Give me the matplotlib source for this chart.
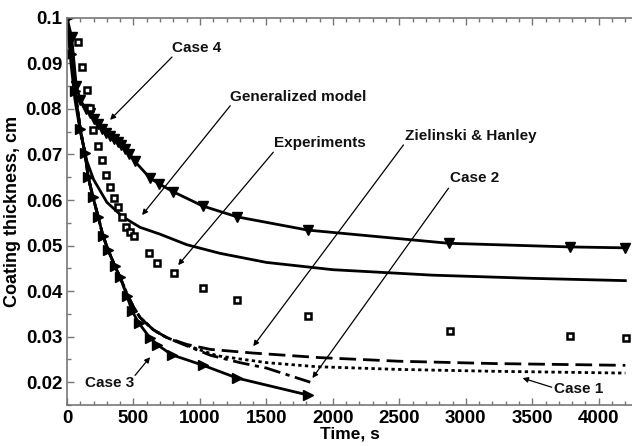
import matplotlib

matplotlib.use("Agg")
import matplotlib.pyplot as plt
from matplotlib.ticker import MultipleLocator

FONT_FAMILY = "Liberation Sans"
AXIS_COLOR = "#777777"

# Case 4 (inverted triangles)
case4_t = [0, 35, 70, 100, 140, 170, 200, 230, 260, 290, 320, 350, 380, 410,
           440, 470, 510, 625, 690, 800, 1020, 1280, 1810, 2870, 3780, 4200]
case4_y = [0.1, 0.0958, 0.085, 0.082, 0.080, 0.0792, 0.0778, 0.0768, 0.0757,
           0.0748, 0.0741, 0.0734, 0.0727, 0.0720, 0.0713, 0.0702, 0.0685,
           0.0648, 0.0636, 0.0618, 0.0587, 0.0563, 0.0534, 0.0505, 0.0497,
           0.0495]

# Generalized model (plain solid line)
gen_t = [0, 30, 60, 100, 150, 200, 300, 420, 550, 700, 900, 1150, 1500, 2000,
         2750, 3500, 4200]
gen_y = [0.1, 0.09, 0.082, 0.075, 0.0685, 0.0645, 0.0595, 0.0563, 0.054,
         0.0525, 0.0502, 0.0483, 0.0463, 0.0447, 0.0435, 0.0428, 0.0423]

# Case 3 (right triangles)
case3_t = [0, 30, 60, 100, 135, 160, 195, 235, 270, 310, 360, 400, 450, 490,
           540, 625, 680, 790, 1025, 1280, 1810]
case3_y = [0.1, 0.092, 0.084, 0.0755, 0.0703, 0.065, 0.0607, 0.0563, 0.0522,
           0.049, 0.0455, 0.043, 0.039, 0.0356, 0.033, 0.0297, 0.0282, 0.026,
           0.0237, 0.0209, 0.0172]

# Experiments (open squares)
exp_t = [83, 113, 151, 173, 196, 234, 264, 294, 324, 354, 384, 414, 444, 474,
         505, 618, 678, 806, 1025, 1280, 1812, 2878, 3785, 4203]
exp_y = [0.0947, 0.0892, 0.0842, 0.0802, 0.0754, 0.0719, 0.0688, 0.0655,
         0.0629, 0.0604, 0.0585, 0.0563, 0.054, 0.053, 0.0521, 0.0484, 0.0462,
         0.044, 0.0407, 0.038, 0.0346, 0.0313, 0.0302, 0.0296]

# Zielinski & Hanley (dashed)
zh_t = [0, 30, 60, 100, 135, 160, 195, 235, 270, 310, 360, 400, 450, 500, 550,
        650, 750, 900, 1080, 1400, 1900, 2500, 3200, 4200]
zh_y = [0.1, 0.092, 0.084, 0.0755, 0.0703, 0.065, 0.0607, 0.0563, 0.0522,
        0.049, 0.0455, 0.043, 0.0395, 0.0365, 0.0342, 0.0315, 0.0298, 0.0283,
        0.0272, 0.0264, 0.0254, 0.0246, 0.0241, 0.0237]

# Case 1 (dotted)
case1_t = [0, 30, 60, 100, 135, 160, 195, 235, 270, 310, 360, 400, 450, 500,
           550, 650, 750, 900, 1130, 1500, 1880, 2500, 3200, 4200]
case1_y = [0.1, 0.092, 0.084, 0.0755, 0.0703, 0.065, 0.0607, 0.0563, 0.0522,
           0.049, 0.0455, 0.043, 0.0395, 0.0365, 0.0342, 0.0315, 0.0298,
           0.0281, 0.0258, 0.0243, 0.0234, 0.0228, 0.0224, 0.022]

# Case 2 (dash-dot)
case2_t = [0, 30, 60, 100, 135, 160, 195, 235, 270, 310, 360, 400, 450, 500,
           550, 650, 750, 900, 1080, 1300, 1500, 1830]
case2_y = [0.1, 0.092, 0.084, 0.0755, 0.0703, 0.065, 0.0607, 0.0563, 0.0522,
           0.049, 0.0455, 0.043, 0.0395, 0.0365, 0.0342, 0.0315, 0.0298,
           0.028, 0.0259, 0.0243, 0.0231, 0.02]

# label, text position, arrow start, arrow tip (data coordinates)
notes = [
    ("Case 4", (790, 0.0934), (790, 0.0914), (324, 0.0776)),
    ("Generalized model", (1228, 0.0826), (1228, 0.0807), (565, 0.0567)),
    ("Experiments", (1560, 0.0725), (1552, 0.0705), (836, 0.0457)),
    ("Zielinski & Hanley", (2539, 0.0741), (2531, 0.0721), (1401, 0.0279)),
    ("Case 2", (2878, 0.0648), (2870, 0.0626), (1846, 0.0209)),
    ("Case 1", (3660, 0.0185), (3646, 0.0189), (3427, 0.0209)),
    ("Case 3", (136, 0.0198), (512, 0.0215), (625, 0.0255)),
]

plt.rcParams["font.family"] = [FONT_FAMILY, "DejaVu Sans"]
plt.rcParams["font.weight"] = "bold"

fig = plt.figure(figsize=(6.32, 4.46), dpi=100)
ax = fig.add_axes([0.106, 0.092, 0.894, 0.868])

ax.plot(zh_t, zh_y, color="black", lw=2, dashes=(6, 2.5))
ax.plot(case1_t, case1_y, color="black", lw=2, dashes=(1.2, 1.2))
ax.plot(case2_t, case2_y, color="black", lw=2, dashes=(6, 2, 1.5, 2))
ax.plot(gen_t, gen_y, color="black", lw=2)
ax.plot(case4_t, case4_y, color="black", lw=2, marker="v", ms=7)
ax.plot(case3_t, case3_y, color="black", lw=2, marker=">", ms=6.5)
ax.plot(exp_t, exp_y, ls="none", marker="s", ms=4.5, mfc="white",
        mec="black", mew=1.8)

for label, txt, start, tip in notes:
    ax.text(txt[0], txt[1], label, ha="left", va="center", fontsize=11,
            fontweight="bold", color="#111111")
    ax.annotate("", xy=tip, xytext=start,
                arrowprops=dict(arrowstyle="-|>", color="black", lw=0.9,
                                mutation_scale=8, shrinkA=0, shrinkB=0))

ax.set_xlim(0, 4250)
ax.set_ylim(0.015, 0.1)
ax.xaxis.set_major_locator(MultipleLocator(500))
ax.xaxis.set_minor_locator(MultipleLocator(100))
ax.yaxis.set_major_locator(MultipleLocator(0.01))
ax.yaxis.set_minor_locator(MultipleLocator(0.005))
ax.set_yticks([0.02, 0.03, 0.04, 0.05, 0.06, 0.07, 0.08, 0.09, 0.1])
ax.set_yticklabels(["0.02", "0.03", "0.04", "0.05", "0.06", "0.07", "0.08",
                    "0.09", "0.1"])

ax.spines["right"].set_visible(False)
for side in ("left", "bottom", "top"):
    ax.spines[side].set_color(AXIS_COLOR)
    ax.spines[side].set_linewidth(1.2)
ax.tick_params(which="both", direction="in", top=True, colors=AXIS_COLOR,
               labelcolor="black", labelsize=13.5, width=1)
ax.tick_params(which="major", length=5)
ax.tick_params(which="minor", length=3)
for lab in ax.get_xticklabels() + ax.get_yticklabels():
    lab.set_fontweight("bold")

ax.set_xlabel("Time, s", fontsize=12.5, fontweight="bold", labelpad=0)
ax.set_ylabel("Coating thickness, cm", fontsize=13, fontweight="bold",
              labelpad=3)

fig.savefig("out.png", dpi=100)
